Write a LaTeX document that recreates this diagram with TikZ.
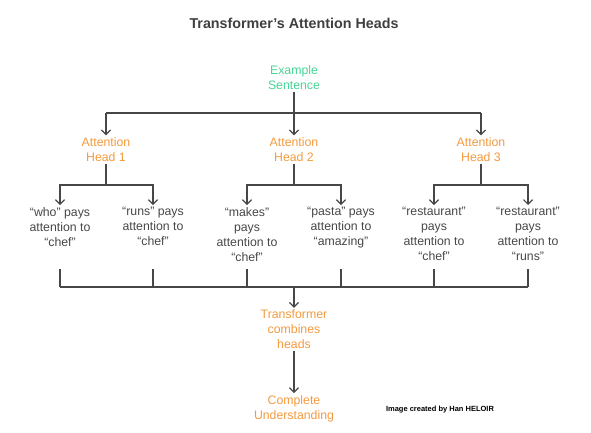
\documentclass[tikz,border=0pt]{standalone}
\usepackage{fontspec}
\setmainfont{Liberation Sans}
\usepackage{tikz}
\usetikzlibrary{arrows.meta, positioning}
\definecolor{headorange}{HTML}{F39A3E}
\definecolor{sentgreen}{HTML}{45D695}
\definecolor{leafgray}{HTML}{474747}
\definecolor{titlegray}{HTML}{3F3F3F}

\begin{document}
\begin{tikzpicture}[
  x=1pt, y=-1pt,
  txt/.style={align=center, font=\fontsize{12.3}{15}\selectfont, inner sep=2pt},
  head/.style={txt, text=headorange},
  leaf/.style={txt, text=leafgray, anchor=north},
  line/.style={draw=leafgray, line width=1.2pt},
  arrow/.style={line, -{Straight Barb[length=4.5pt, width=9pt]}},
]
  \useasboundingbox (0,0) rectangle (591,432);

  \node[font=\bfseries\fontsize{14.3}{18}\selectfont, text=titlegray] (title) at (294,23) {Transformer's Attention Heads};
  \node[txt, text=sentgreen] (sent) at (294,78) {Example\\Sentence};

  % attention heads
  \node[head] (head1) at (106,149.5) {Attention\\Head 1};
  \node[head] (head2) at (294,149.5) {Attention\\Head 2};
  \node[head] (head3) at (481,149.5) {Attention\\Head 3};

  % what each head looks at
  \node[leaf] (leaf1) at (60,205)  {“who” pays\\attention to\\“chef”};
  \node[leaf] (leaf2) at (153,205) {“runs” pays\\attention to\\“chef”};
  \node[leaf] (leaf3) at (247,205) {“makes”\\pays\\attention to\\“chef”};
  \node[leaf] (leaf4) at (341,205) {“pasta” pays\\attention to\\“amazing”};
  \node[leaf] (leaf5) at (434,205) {“restaurant”\\pays\\attention to\\“chef”};
  \node[leaf] (leaf6) at (528,205) {“restaurant”\\pays\\attention to\\“runs”};

  \node[head] (comb) at (294,329.5) {Transformer\\combines\\heads};
  \node[head] (full) at (294,408.5) {Complete\\Understanding};

  \node[font=\bfseries\fontsize{7.5}{9}\selectfont, text=black] (credit) at (440,410) {Image created by Han HELOIR};

  % sentence -> heads
  \coordinate (hbar) at (294,113);
  \draw[arrow] (sent) -- (head2);
  \draw[line] (head1 |- hbar) -- (head3 |- hbar);
  \draw[arrow] (head1 |- hbar) -- (head1);
  \draw[arrow] (head3 |- hbar) -- (head3);

  % heads -> leaves
  \foreach \h/\a/\b in {1/1/2, 2/3/4, 3/5/6} {
    \coordinate (j\h) at (head\h |- 0,185);
    \draw[line] (head\h) -- (j\h);
    \draw[arrow] (j\h) -| (leaf\a);
    \draw[arrow] (j\h) -| (leaf\b);
  }

  % leaves -> combination
  \coordinate (bar) at (294,287);
  \foreach \n in {1,...,6} {
    \coordinate (b\n) at (leaf\n |- 0,269);
    \draw[line] (b\n) -- (b\n |- bar);
  }
  \draw[line] (b1 |- bar) -- (b6 |- bar);
  \draw[arrow] (bar) -- (comb);
  \draw[arrow] (comb) -- (full);
\end{tikzpicture}
\end{document}
